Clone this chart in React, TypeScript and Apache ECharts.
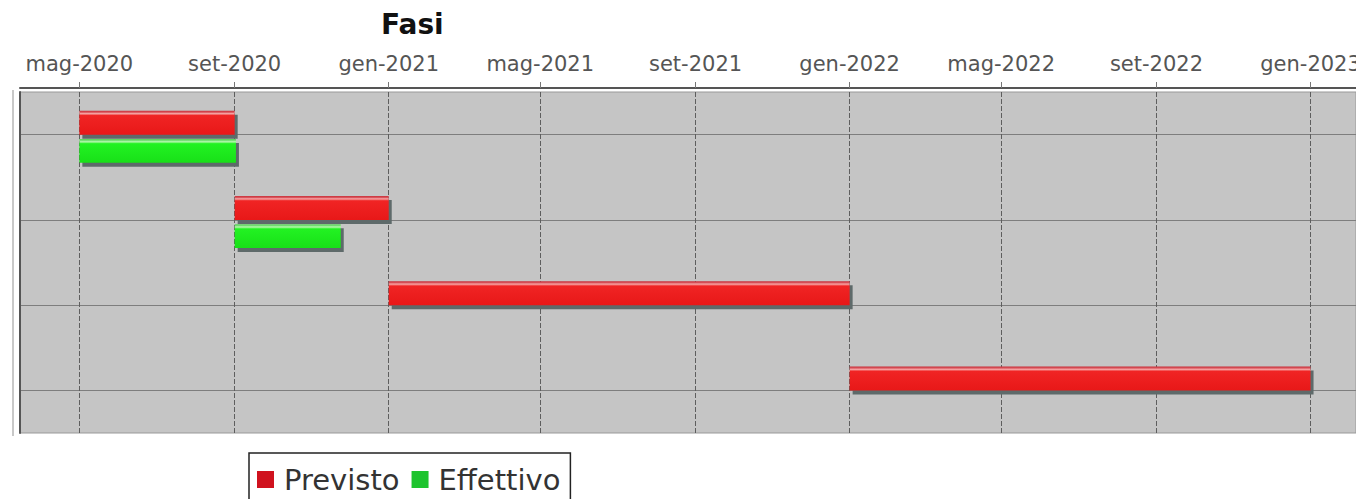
import React, { useEffect, useRef } from 'react';
import * as echarts from 'echarts';

const categories = ['Fase 1', 'Fase 2', 'Fase 3', 'Fase 4'];
const previstoStart = ['2020-05-01', '2020-09-01', '2021-01-01', '2022-01-01'];
const previstoEnd = ['2020-09-01', '2021-01-01', '2022-01-01', '2023-01-01'];
const effettivoStart: (string | null)[] = ['2020-05-01', '2020-09-01', null, null];
const effettivoEnd: (string | null)[] = ['2020-09-02', '2020-11-24', null, null];
const tickDates = [
  '2020-05-01', '2020-09-01', '2021-01-01', '2021-05-01', '2021-09-01',
  '2022-01-01', '2022-05-01', '2022-09-01', '2023-01-01',
];
const monthNames = ['gen', 'feb', 'mar', 'apr', 'mag', 'giu', 'lug', 'ago', 'set', 'ott', 'nov', 'dic'];
const axisStart = '2020-03-15';
const axisEnd = '2023-02-06';

const toTs = (s: string) => {
  const [y, m, d] = s.split('-').map(Number);
  return Date.UTC(y, m - 1, d);
};

const previstoData = categories.map((_, i) => [i, toTs(previstoStart[i]), toTs(previstoEnd[i])]);
const effettivoData = categories
  .map((_, i) => (effettivoStart[i] && effettivoEnd[i] ? [i, toTs(effettivoStart[i] as string), toTs(effettivoEnd[i] as string)] : null))
  .filter((d) => d !== null);

const redFill = () =>
  new echarts.graphic.LinearGradient(0, 0, 0, 1, [
    { offset: 0, color: '#c8303a' },
    { offset: 0.06, color: '#d85058' },
    { offset: 0.12, color: '#f6a8a8' },
    { offset: 0.2, color: '#f02424' },
    { offset: 1, color: '#e81818' },
  ]);
const greenFill = () =>
  new echarts.graphic.LinearGradient(0, 0, 0, 1, [
    { offset: 0, color: '#58d058' },
    { offset: 0.06, color: '#70dc70' },
    { offset: 0.12, color: '#b8f8b0' },
    { offset: 0.2, color: '#22f222' },
    { offset: 1, color: '#18e018' },
  ]);

const makeRender = (isPrevisto: boolean) => (params: any, api: any) => {
  const cat = api.value(0);
  const s = api.coord([api.value(1), cat]);
  const e = api.coord([api.value(2), cat]);
  const band = api.size([0, 1])[1];
  const h = band * 0.28;
  const top = isPrevisto ? s[1] - h : s[1] + band * 0.05;
  const w = e[0] - s[0];
  return {
    type: 'group',
    children: [
      { type: 'rect', shape: { x: s[0] + 3, y: top + 4, width: w, height: h }, style: { fill: '#5e6a6a' } },
      { type: 'rect', shape: { x: s[0], y: top, width: w, height: h }, style: { fill: isPrevisto ? redFill() : greenFill() } },
    ],
  };
};

export default function App() {
  const ref = useRef<HTMLDivElement>(null);
  useEffect(() => {
    if (!ref.current) return;
    const chart = echarts.init(ref.current, null, { renderer: 'svg' });
    const tickVals = tickDates.map(toTs);
    chart.setOption({
      animation: false,
      backgroundColor: '#ffffff',
      title: {
        text: 'Fasi',
        left: 381,
        top: 10,
        padding: 0,
        textStyle: { fontSize: 28, fontWeight: 'bold', color: '#111', fontFamily: 'DejaVu Sans' },
      },
      legend: {
        left: 249,
        top: 453,
        icon: 'rect',
        itemWidth: 17,
        itemHeight: 17,
        itemGap: 12,
        borderColor: '#222',
        borderWidth: 1.5,
        padding: [12, 10, 20, 8],
        textStyle: { fontSize: 29, color: '#333', fontFamily: 'DejaVu Sans', padding: [0, 0, 0, 5] },
        data: ['Previsto', 'Effettivo'],
      },
      grid: {
        left: 20,
        right: 0,
        top: 92,
        bottom: 66,
        show: true,
        containLabel: false,
        outerBoundsMode: 'none',
        backgroundColor: '#c5c5c5',
        borderColor: '#999',
        borderWidth: 1,
      },
      xAxis: {
        type: 'value',
        position: 'top',
        offset: 4,
        min: toTs(axisStart),
        max: toTs(axisEnd),
        axisLine: { show: true, onZero: false, lineStyle: { color: '#555', width: 2 } },
        axisTick: { show: true, length: 6, customValues: tickVals, lineStyle: { color: '#777' } },
        axisLabel: {
          customValues: tickVals,
          margin: 14,
          fontSize: 21,
          color: '#555',
          fontFamily: 'DejaVu Sans',
          formatter: (v: number) => {
            const d = new Date(v);
            return monthNames[d.getUTCMonth()] + '-' + d.getUTCFullYear();
          },
        },
        splitLine: { show: true, lineStyle: { color: '#5e5e5e', width: 1, type: [5, 2] } },
      },
      yAxis: {
        type: 'value',
        min: -0.5,
        max: categories.length - 0.5,
        inverse: true,
        axisLine: { show: true, onZero: false, lineStyle: { color: '#555', width: 2 } },
        axisTick: { show: false, customValues: categories.map((_, i) => i) },
        axisLabel: { show: false, customValues: categories.map((_, i) => i) },
        splitLine: { show: true, lineStyle: { color: '#7e7e7e', width: 1 } },
      },
      graphic: [
        { type: 'line', shape: { x1: 13, y1: 90, x2: 13, y2: 436 }, style: { stroke: '#c8c8c8', lineWidth: 2 } },
      ],
      series: [
        {
          name: 'Previsto',
          type: 'custom',
          renderItem: makeRender(true),
          itemStyle: { color: '#d0121e' },
          encode: { x: [1, 2], y: 0 },
          data: previstoData,
        },
        {
          name: 'Effettivo',
          type: 'custom',
          renderItem: makeRender(false),
          itemStyle: { color: '#1ec42e' },
          encode: { x: [1, 2], y: 0 },
          data: effettivoData,
        },
      ],
    });
    return () => chart.dispose();
  }, []);
  return <div ref={ref} style={{ position: 'absolute', left: 0, top: 0, width: 1356, height: 499 }} />;
}
